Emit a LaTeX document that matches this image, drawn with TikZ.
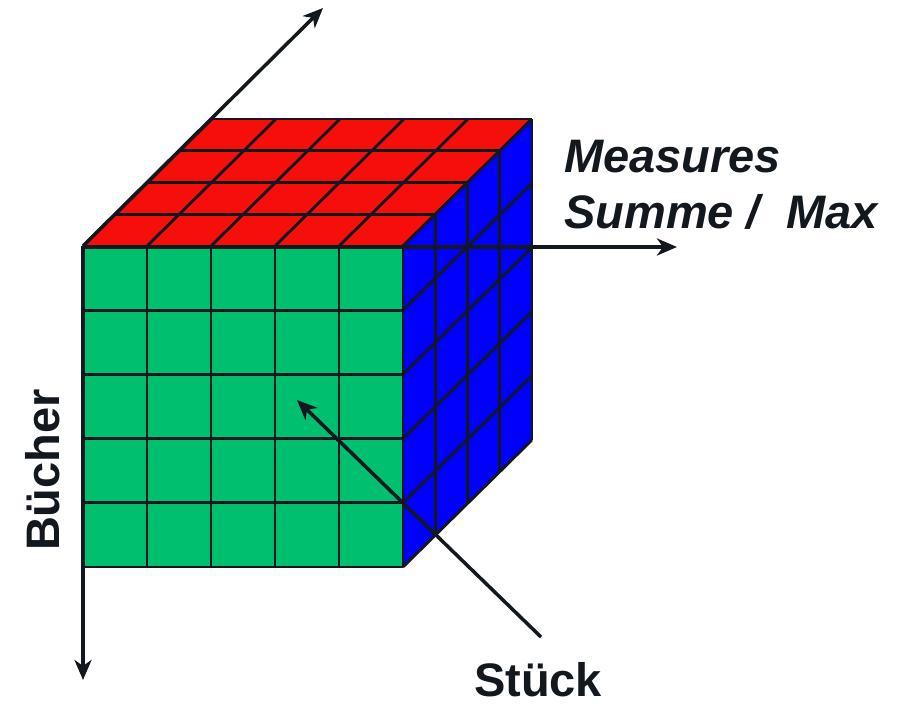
\documentclass[tikz,border=0pt]{standalone}
\usepackage{fontspec}
\setmainfont{Liberation Sans}
\usetikzlibrary{arrows.meta}
\definecolor{topred}{RGB}{245,14,10}
\definecolor{frontgreen}{RGB}{0,192,112}
\definecolor{sideblue}{RGB}{0,0,252}
\definecolor{inkblack}{RGB}{18,24,30}
\tikzset{
  grid line/.style={line width=2.8pt,draw=inkblack},
  axis/.style={line width=3.5pt,draw=inkblack,-{Stealth[length=20pt,width=17pt,inset=6pt]}},
  dimlabel/.style={font=\fontsize{47}{56}\selectfont\bfseries,text=inkblack,inner sep=0pt}
}

\begin{document}
\begin{tikzpicture}[x=1pt,y=-1pt]
\useasboundingbox (0,0) rectangle (898,707);
% corners of the cube
\coordinate (origin) at (83,246);
\coordinate (front tr) at (403,246);
\coordinate (front br) at (403,567);
\coordinate (back tl) at (212,119);
\coordinate (back tr) at (532,119);
\coordinate (back br) at (532,440);
% front face: 5 x 5
\fill[frontgreen] (origin) rectangle (front br);
\foreach \i in {0,...,5} {
  \draw[grid line] (83+64*\i,246) -- (83+64*\i,567);
  \draw[grid line] (83,246+64.2*\i) -- (403,246+64.2*\i);
}
% top face: 5 x 4
\fill[topred] (origin) -- (front tr) -- (back tr) -- (back tl) -- cycle;
\foreach \k in {0,...,4}
  \draw[grid line] (83+32.25*\k,246-31.75*\k) -- (403+32.25*\k,246-31.75*\k);
\foreach \i in {0,...,5}
  \draw[grid line] (83+64*\i,246) -- ++(129,-127);
% right face: 4 x 5
\fill[sideblue] (front tr) -- (back tr) -- (back br) -- (front br) -- cycle;
\foreach \k in {0,...,4}
  \draw[grid line] (403+32.25*\k,246-31.75*\k) -- ++(0,321);
\foreach \j in {0,...,5}
  \draw[grid line] (403,246+64.2*\j) -- ++(129,-127);
% axes
\coordinate (depth end) at (323,8);
\coordinate (down end) at (83,680);
\coordinate (right end) at (677,247);
\coordinate (cell) at (297,400);
\coordinate (pointer) at (541,637);
\draw[axis] (origin) -- (depth end);
\draw[axis] (origin) -- (down end);
\draw[axis] (83,247) -- (right end);
\draw[axis] (pointer) -- (cell);
% labels
\node[dimlabel,font=\fontsize{47}{56}\selectfont\bfseries\itshape,anchor=base west] (measures) at (564,172) {Measures};
\node[dimlabel,font=\fontsize{47}{56}\selectfont\bfseries\itshape,anchor=base west] (aggregates) at (564,228) {Summe /~~Max};
\node[dimlabel,rotate=90] (buecher) at (43,470) {Bücher};
\node[dimlabel] (stueck) at (538,680) {Stück};
\end{tikzpicture}
\end{document}
